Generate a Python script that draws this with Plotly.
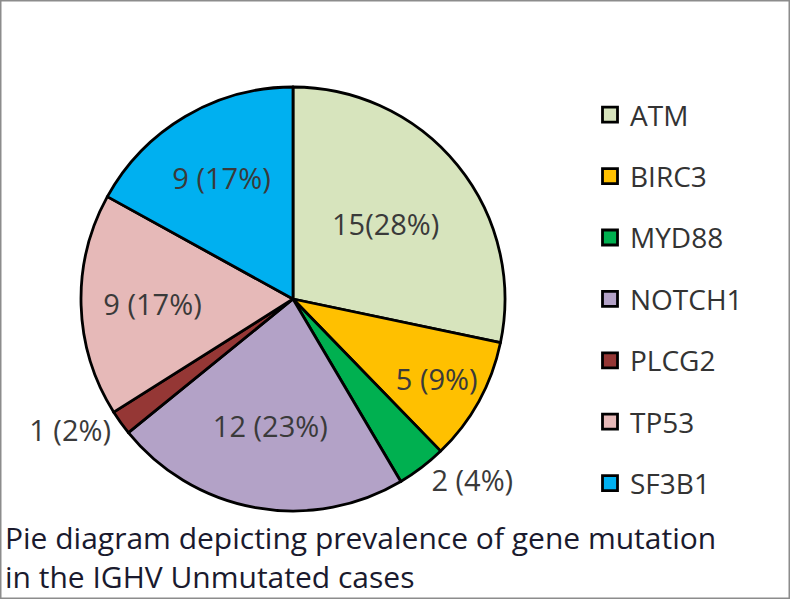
import plotly.graph_objects as go

genes = ["ATM", "BIRC3", "MYD88", "NOTCH1", "PLCG2", "TP53", "SF3B1"]
counts = [15, 5, 2, 12, 1, 9, 9]
data_labels = ["15(28%)", "5 (9%)", "2 (4%)", "12 (23%)", "1 (2%)", "9 (17%)", "9 (17%)"]
label_positions = ["inside", "inside", "outside", "inside", "outside", "inside", "inside"]
colors = ["#D7E4BD", "#FFC000", "#00B050", "#B3A2C7", "#953735", "#E6B9B8", "#00B0F0"]
caption = "Pie diagram depicting prevalence of gene mutation<br>in the IGHV Unmutated cases"

W, H = 790, 599
cx, cy, r = 293, 299, 212

fig = go.Figure()
fig.add_trace(go.Pie(
    labels=genes, values=counts, text=data_labels, textinfo="text",
    textposition=label_positions, insidetextorientation="horizontal",
    sort=False, direction="clockwise", rotation=0,
    marker=dict(colors=colors, line=dict(color="black", width=2.8)),
    textfont=dict(family="Open Sans", size=29, color="#3a3a3a"),
    showlegend=False, hoverinfo="label+value+percent",
    domain=dict(x=[(cx - r) / W, (cx + r) / W], y=[(H - cy - r) / H, (H - cy + r) / H]),
))

for g, c in zip(genes, colors):
    fig.add_trace(go.Scatter(
        x=[None], y=[None], mode="markers", name=g, legendgroup=g,
        marker=dict(symbol="square", size=15, color=c, line=dict(color="black", width=2.8)),
    ))

fig.update_layout(
    width=W, height=H, margin=dict(l=0, r=0, t=0, b=0, autoexpand=False),
    paper_bgcolor="white", plot_bgcolor="white",
    xaxis=dict(visible=False), yaxis=dict(visible=False),
    legend=dict(
        xref="paper", yref="paper", x=590 / W, y=1 - 90 / H,
        xanchor="left", yanchor="top", tracegroupgap=22, maxheight=560,
        font=dict(family="Open Sans", size=28, color="#333333"),
        bgcolor="rgba(0,0,0,0)",
    ),
    annotations=[dict(
        text=caption, xref="paper", yref="paper", x=0.004, y=0.0, xanchor="left", yanchor="bottom",
        align="left", showarrow=False,
        font=dict(family="Open Sans", size=30, color="#1a1a2e"),
    )],
    shapes=[dict(type="rect", xref="paper", yref="paper", x0=0, x1=1, y0=0, y1=1,
                 line=dict(color="#8c8c8c", width=3))],
)

fig.write_html("out.html", config={"displayModeBar": False},
               post_script="document.body.style.margin='0';document.body.style.overflow='hidden';")
